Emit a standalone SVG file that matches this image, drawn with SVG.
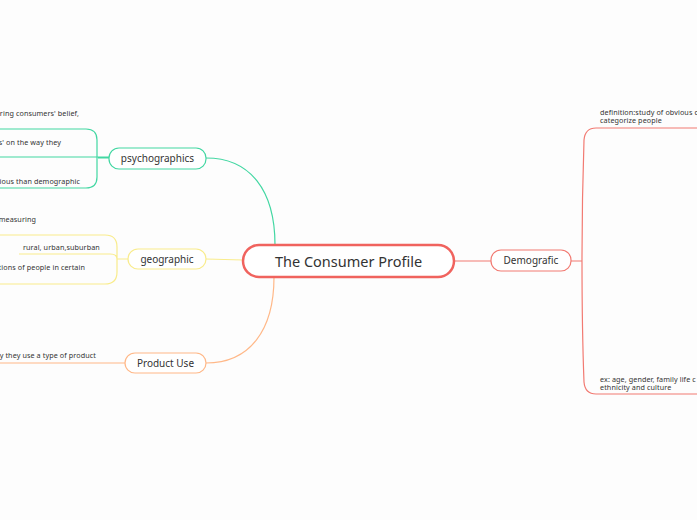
<svg xmlns="http://www.w3.org/2000/svg" width="697" height="520" viewBox="0 0 697 520">
<style>
text{font-family:"Noto Sans","Liberation Sans",sans-serif;fill:#333}
.t{font-size:7.2px;letter-spacing:0.1px}
.n{font-size:10px;text-anchor:middle}
.c{fill:none;stroke-width:1.2}
.g{stroke:#42d7a2}.y{stroke:#f9ec8c}.o{stroke:#ffb888}.r{stroke:#f27a72}
.box{fill:#fff;stroke-width:1.2}
</style>
<rect width="697" height="520" fill="#fdfdfd"/>
<g id="connectors">
<path class="c g" d="M275 245 C275 190 250 158 206 158" stroke-width="1.6"/>
<path class="c y" d="M243 260 L206 259" stroke-width="1.6"/>
<path class="c o" d="M274 277 C274 330 250 363 206 363" stroke-width="1.6"/>
<path class="c r" d="M454 261 L491 261" stroke-width="1.6"/>
<path class="c g" d="M109 158 L98 158 M0 129 L86 129 Q97 129 97 140 L97 177 Q97 188 86 188 L0 188 M0 157 L109 157"/>
<path class="c y" d="M128 259 L117 259 M0 235 L105 235 Q117 235 117 247 L117 272 Q117 284 105 284 L0 284 M19 254 L110 254 Q117 254 117 259"/>
<path class="c o" d="M0 363 L125 363"/>
<path class="c r" d="M571 261 L582 261 M697 128 L596 128 Q585 128 584 140 Q582 200 582 261 Q582 330 584 382 Q585 394 596 394 L697 394"/>
</g>
<g id="central">
<rect x="243" y="245" width="211" height="32" rx="16" fill="#fff" stroke="#f0635e" stroke-width="2.5"/>
<text x="348.5" y="267" font-size="14.5" text-anchor="middle">The Consumer Profile</text>
</g>
<g id="psychographics">
<rect class="box g" x="109" y="148" width="97" height="21" rx="10"/>
<text class="n" x="157.5" y="162">psychographics</text>
</g>
<g id="geographic">
<rect class="box y" x="128" y="249" width="78" height="20" rx="10"/>
<text class="n" x="167" y="262.5">geographic</text>
</g>
<g id="productuse">
<rect class="box o" x="125" y="353" width="81" height="20" rx="10"/>
<text class="n" x="165.5" y="366.5">Product Use</text>
</g>
<g id="demografic">
<rect class="box r" x="491" y="250" width="80" height="21" rx="10"/>
<text class="n" x="531" y="264" font-size="9.5">Demografic</text>
</g>
<g id="psy-children">
<text class="t" x="79" y="116" text-anchor="end">uring consumers' belief,</text>
<text class="t" x="61" y="144.5" text-anchor="end">s' on the way they</text>
<text class="t" x="80" y="183.5" text-anchor="end">rious than demographic</text>
</g>
<g id="geo-children">
<text class="t" x="36" y="221.5" text-anchor="end">measuring</text>
<text class="t" x="23" y="249.5">rural, urban,suburban</text>
<text class="t" x="85" y="269.5" text-anchor="end">tions of people in certain</text>
</g>
<g id="use-children">
<text class="t" x="96" y="357.5" text-anchor="end">y they use a type of product</text>
</g>
<g id="demo-children">
<text class="t" x="600" y="114.5">definition:study of obvious d</text>
<text class="t" x="600" y="123">categorize people</text>
<text class="t" x="600" y="381.5">ex: age, gender, family life c</text>
<text class="t" x="600" y="390">ethnicity and culture</text>
</g>
</svg>
